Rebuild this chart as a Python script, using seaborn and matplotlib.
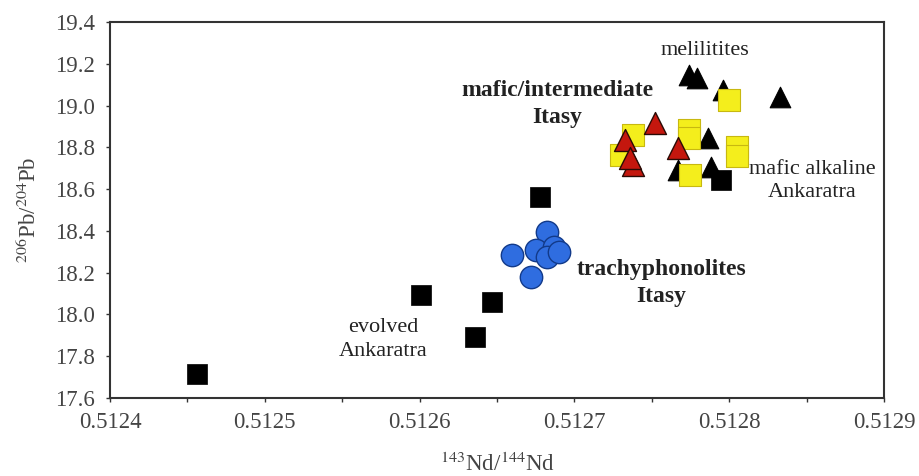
import matplotlib
matplotlib.use("Agg")
import matplotlib.pyplot as plt
import seaborn as sns
import pandas as pd
import numpy as np

# ---- data ----
melilitite_nd = [0.512774, 0.512779, 0.512796, 0.512833, 0.512786, 0.512788, 0.512767]
melilitite_pb = [19.146, 19.130, 19.074, 19.042, 18.843, 18.707, 18.690]

mafic_alk_nd = [0.512800, 0.512774, 0.512774, 0.512805, 0.512805, 0.512775, 0.512738, 0.512730]
mafic_alk_pb = [19.027, 18.883, 18.845, 18.800, 18.760, 18.667, 18.859, 18.763]

mafic_itasy_nd = [0.512752, 0.512733, 0.512738, 0.512736, 0.512767]
mafic_itasy_pb = [18.915, 18.835, 18.715, 18.749, 18.795]

evolved_nd = [0.512456, 0.512601, 0.512636, 0.512647, 0.512678, 0.512795]
evolved_pb = [17.715, 18.093, 17.892, 18.060, 18.562, 18.644]

trachy_nd = [0.512682, 0.512660, 0.512675, 0.512687, 0.512682, 0.512672, 0.512690]
trachy_pb = [18.396, 18.285, 18.308, 18.324, 18.276, 18.181, 18.300]

x_ticks = [0.5124, 0.5125, 0.5126, 0.5127, 0.5128, 0.5129]
y_ticks = [17.6, 17.8, 18.0, 18.2, 18.4, 18.6, 18.8, 19.0, 19.2, 19.4]

sns.set_theme(style="white")
plt.rcParams["font.family"] = ["Liberation Serif", "DejaVu Serif"]
plt.rcParams["mathtext.fontset"] = "stix"

fig = plt.figure(figsize=(9.19, 4.76), dpi=100)
ax = fig.add_axes([110/919, 1-398/476, (884-110)/919, (398-22)/476])

def grp(nd, pb):
    return pd.DataFrame({"nd": nd, "pb": pb})

sns.scatterplot(data=grp(melilitite_nd, melilitite_pb), x="nd", y="pb", ax=ax,
                marker="^", s=220, color="black", edgecolor="black", linewidth=0.8, zorder=3)
sns.scatterplot(data=grp(mafic_alk_nd, mafic_alk_pb), x="nd", y="pb", ax=ax,
                marker="s", s=260, color="#f4ee1c", edgecolor="#c8b810", linewidth=0.8, zorder=4)
sns.scatterplot(data=grp(mafic_itasy_nd, mafic_itasy_pb), x="nd", y="pb", ax=ax,
                marker="^", s=250, color="#c4170e", edgecolor="#2a0a05", linewidth=1.0, zorder=5)
sns.scatterplot(data=grp(evolved_nd, evolved_pb), x="nd", y="pb", ax=ax,
                marker="s", s=190, color="black", edgecolor="black", linewidth=0.5, zorder=6)
sns.scatterplot(data=grp(trachy_nd, trachy_pb), x="nd", y="pb", ax=ax,
                marker="o", s=260, color="#2f6de0", edgecolor="#123a8a", linewidth=1.0, zorder=7)

ax.set_xlim(0.5124, 0.5129)
ax.set_ylim(17.6, 19.4)
ax.set_xticks(x_ticks)
ax.set_xticklabels([f"{v:.4f}" for v in x_ticks])
ax.set_xticks([0.51245, 0.51255, 0.51265, 0.51275, 0.51285], minor=True)
ax.set_yticks(y_ticks)
ax.set_yticklabels([f"{v:.1f}" for v in y_ticks])
ax.tick_params(axis="both", which="both", direction="out", length=3, width=1, colors="#333333",
               labelsize=16.5, labelcolor="#444444", bottom=True, left=True)
ax.tick_params(axis="x", pad=7)
ax.tick_params(axis="y", pad=8)
for sp in ax.spines.values():
    sp.set_color("#333333")
    sp.set_linewidth(1.5)

ax.set_xlabel(r"$^{143}$Nd/$^{144}$Nd", fontsize=16.5, color="#444444", labelpad=14)
ax.set_ylabel(r"$^{206}$Pb/$^{204}$Pb", fontsize=16.5, color="#444444", labelpad=10)

tk = dict(color="#222222", ha="center", va="center", linespacing=1.35)
ax.text(0.5127844, 19.262, "melilitites", fontsize=16, **tk)
ax.text(0.5126888, 19.007, "mafic/intermediate\nItasy", fontweight="bold", fontsize=17, **tk)
ax.text(0.5128535, 18.639, "mafic alkaline\nAnkaratra", fontsize=16, **tk)
ax.text(0.5127560, 18.151, "trachyphonolites\nItasy", fontweight="bold", fontsize=17, **tk)
ax.text(0.5125764, 17.878, "evolved\nAnkaratra", fontsize=16, **tk)

fig.savefig("out.png", dpi=100)
